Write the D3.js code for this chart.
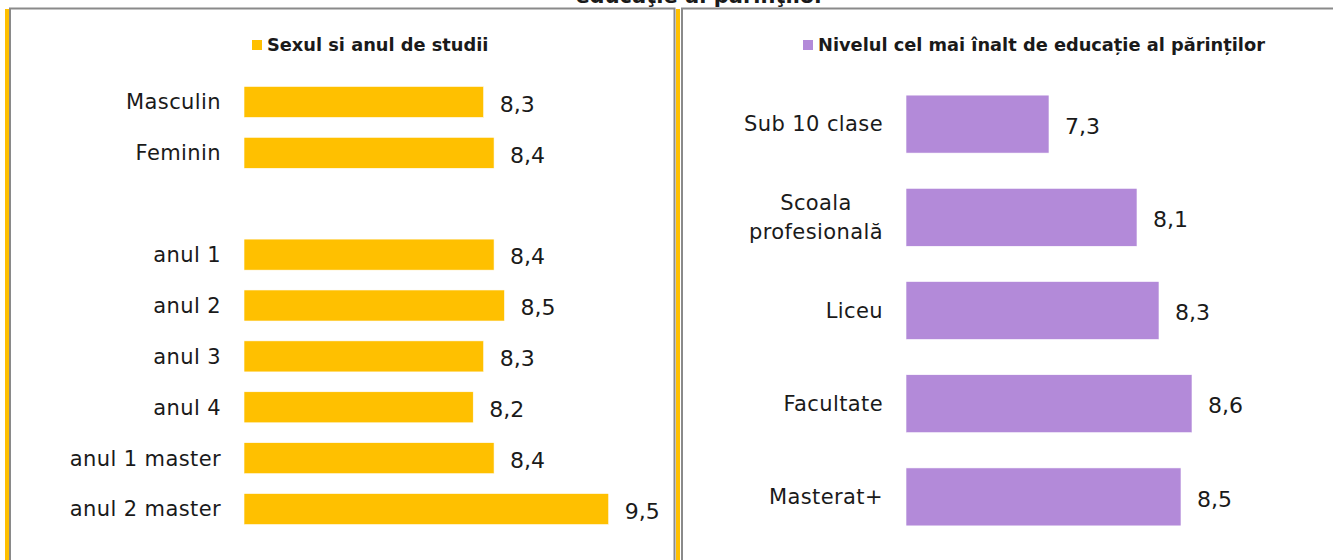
<!DOCTYPE html>
<html>
<head>
<meta charset="utf-8">
<script src="https://cdn.jsdelivr.net/npm/d3@7"></script>
<style>
  body { margin: 0; background: #fff; }
  #chart { width: 1333px; height: 560px; overflow: hidden; }
  text { font-family: "DejaVu Sans", sans-serif; fill: #1a1a1a; }
</style>
</head>
<body>
<div id="chart"></div>
<script>
// Two panels: satisfaction by sex / study year and by parents' education
const leftTitle = "Sexul si anul de studii";
const leftCats = ["Masculin", "Feminin", "", "anul 1", "anul 2", "anul 3", "anul 4", "anul 1 master", "anul 2 master"];
const leftVals = [8.3, 8.4, null, 8.4, 8.5, 8.3, 8.2, 8.4, 9.5];

const rightTitle = "Nivelul cel mai înalt de educație al părinților";
const rightCats = ["Sub 10 clase", "Scoala\nprofesională", "Liceu", "Facultate", "Masterat+"];
const rightVals = [7.3, 8.1, 8.3, 8.6, 8.5];

const topTitle = "educaţie al părinţilor";

(() => {
    const W = 1333, H = 560;
    const svg = d3.select("#chart").append("svg").attr("width", W).attr("height", H);

    // clipped chart title above the panels
    svg.append("text").attr("x", 700).attr("y", 3)
        .attr("text-anchor", "middle")
        .style("font-size", "21px").style("font-weight", "bold")
        .text(topTitle);

    // panel frames
    svg.append("rect").attr("x", 5).attr("y", 9).attr("width", 4).attr("height", H).attr("fill", "#ffc000");
    svg.append("rect").attr("x", 676).attr("y", 9).attr("width", 4).attr("height", H).attr("fill", "#ffc000");
    svg.append("rect").attr("x", 10).attr("y", 8.5).attr("width", 664.5).attr("height", H)
        .attr("fill", "none").attr("stroke", "#8a8a8a").attr("stroke-width", 2);
    svg.append("rect").attr("x", 682).attr("y", 8.5).attr("width", 700).attr("height", H)
        .attr("fill", "none").attr("stroke", "#8a8a8a").attr("stroke-width", 2);

    const panel = (cfg) => {
        const g = svg.append("g");
        const idx = cfg.cats.map((d, i) => i);
        const y = d3.scaleBand().domain(idx).range(cfg.yRange).paddingInner(cfg.pad).paddingOuter(cfg.pad / 2);
        const x = d3.scaleLinear().domain([6, 10]).range([cfg.x0, cfg.x0 + cfg.unit * 4]);

        // legend
        const lg = g.append("g");
        lg.append("rect").attr("x", cfg.legX).attr("y", 40).attr("width", 10).attr("height", 10).attr("fill", cfg.color);
        lg.append("text").attr("x", cfg.legX + 15).attr("y", 45).attr("dy", "0.35em")
            .style("font-size", "17.8px").style("font-weight", "bold").text(cfg.title);

        const rows = idx.filter(i => cfg.vals[i] != null);

        g.selectAll("rect.bar").data(rows).join("rect").attr("class", "bar")
            .attr("x", x(6))
            .attr("y", i => y(i))
            .attr("width", i => x(cfg.vals[i]) - x(6))
            .attr("height", y.bandwidth())
            .attr("fill", cfg.color)
            .attr("stroke", "#fff").attr("stroke-width", 0.6);

        // category labels (multi-line labels centered as a block, block right-aligned)
        g.selectAll("text.cat").data(rows).join("text").attr("class", "cat")
            .style("font-size", "21px").style("letter-spacing", "0.4px")
            .each(function (i) {
                const lines = cfg.cats[i].split("\n");
                const t = d3.select(this);
                const cy = y(i) + y.bandwidth() / 2;
                const lh = 29;
                if (lines.length === 1) {
                    t.attr("x", cfg.labelX).attr("y", cy).attr("dy", "0.35em").attr("text-anchor", "end").text(lines[0]);
                } else {
                    t.attr("text-anchor", "middle");
                    const spans = lines.map((s, k) => t.append("tspan")
                        .attr("y", cy + (k - (lines.length - 1) / 2) * lh)
                        .attr("dy", "0.35em").text(s));
                    const maxW = d3.max(spans, s => s.node().getComputedTextLength());
                    spans.forEach(s => s.attr("x", cfg.labelX - maxW / 2));
                }
            });

        // value labels
        g.selectAll("text.val").data(rows).join("text").attr("class", "val")
            .attr("x", i => x(cfg.vals[i]) + 16)
            .attr("y", i => y(i) + y.bandwidth() / 2 + 2)
            .attr("dy", "0.35em")
            .style("font-size", "22px")
            .text(i => d3.format(".1f")(cfg.vals[i]).replace(".", ","));
    };

    panel({ cats: leftCats, vals: leftVals, title: leftTitle, color: "#ffc000",
        yRange: [76.5, 534.5], pad: 0.39, x0: 244, unit: 104.2, labelX: 221, legX: 252 });
    panel({ cats: rightCats, vals: rightVals, title: rightTitle, color: "#b38ad9",
        yRange: [77.5, 543.5], pad: 0.378, x0: 906, unit: 110, labelX: 883, legX: 803 });
})();
</script>
</body>
</html>
